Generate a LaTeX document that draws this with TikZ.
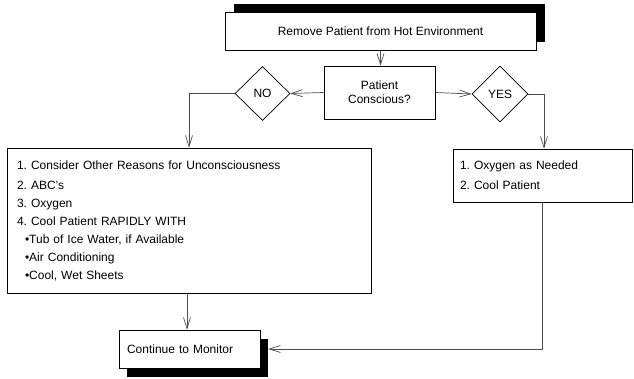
\documentclass[tikz,border=0pt]{standalone}
\usepackage{fontspec}
\setmainfont{Liberation Sans}
\frenchspacing
\usetikzlibrary{shapes.geometric,arrows.meta}
\tikzstyle{stepbox}=[rectangle,draw=black,fill=white,line width=0.7pt,inner sep=0pt,font=\fontsize{12}{14}\selectfont]
\tikzstyle{listbox}=[stepbox,align=left,inner ysep=0pt,font=\fontsize{12}{18}\selectfont]
\tikzstyle{shadowbox}=[rectangle,fill=black,inner sep=0pt]
\tikzstyle{decision}=[diamond,draw=black,fill=white,line width=0.7pt,inner sep=0pt,font=\fontsize{12}{14}\selectfont]
\tikzstyle{inarrow}=[->,>={Straight Barb[length=11pt,width=7pt]},draw=black!70,line width=0.7pt]
\pgfdeclarelayer{edgelayer}
\pgfdeclarelayer{nodelayer}
\pgfsetlayers{edgelayer,nodelayer,main}
\begin{document}
\begin{tikzpicture}[x=1pt,y=-1pt]
	\useasboundingbox (0,0) rectangle (634,379);
	\begin{pgfonlayer}{nodelayer}
		\node [style=shadowbox, minimum width=311pt, minimum height=38pt] (topsh) at (389.5, 23) {};
		\node [style=stepbox, minimum width=311pt, minimum height=38pt] (remove) at (380.5, 31) {Remove Patient from Hot Environment};

		\node [style=stepbox, minimum width=111pt, minimum height=53pt, align=center] (conscious) at (379.5, 92.5) {Patient\\Conscious?};
		\node [style=decision, minimum width=55pt, minimum height=54pt] (no) at (262.5, 93.5) {NO};
		\node [style=decision, minimum width=56pt, minimum height=56pt] (yes) at (500, 94) {YES};

		\node [style=listbox, text width=344pt, inner xsep=10pt, minimum height=145pt] (unconscious) at (189, 220.5) {%
			1. Consider Other Reasons for Unconsciousness\\[2pt]
			2. ABC's\\
			3. Oxygen\\
			4. Cool Patient RAPIDLY WITH\\
			\hspace*{8pt}\textbullet Tub of Ice Water, if Available\\
			\hspace*{8pt}\textbullet Air Conditioning\\
			\hspace*{8pt}\textbullet Cool, Wet Sheets};
		\node [style=listbox, text width=165pt, inner xsep=7pt, minimum height=53pt, font=\fontsize{12}{20}\selectfont] (awake) at (542.5, 175.5) {%
			1. Oxygen as Needed\\
			2. Cool Patient};

		\node [style=shadowbox, minimum width=141pt, minimum height=38pt] (monitorsh) at (197.5, 358) {};
		\node [style=listbox, text width=125pt, inner xsep=8pt, minimum height=38pt] (monitor) at (189.5, 349) {Continue to Monitor};
	\end{pgfonlayer}
	\begin{pgfonlayer}{edgelayer}
		\draw [style=inarrow] (remove.south) to (remove.south |- conscious.north);
		\draw [style=inarrow] (conscious.west) to (no.east);
		\draw [style=inarrow] (conscious.east) to (yes.west);
		\draw [style=inarrow] (no.west) -| (unconscious.north);
		\draw [style=inarrow] (yes.east) -| ([xshift=1.5pt]awake.north);
		\draw [style=inarrow] ([xshift=-2pt]unconscious.south) to ([xshift=-2pt]unconscious.south |- monitor.north);
		\draw [style=inarrow] (awake.south) |- (monitorsh.east |- monitor.east);
	\end{pgfonlayer}
\end{tikzpicture}
\end{document}
